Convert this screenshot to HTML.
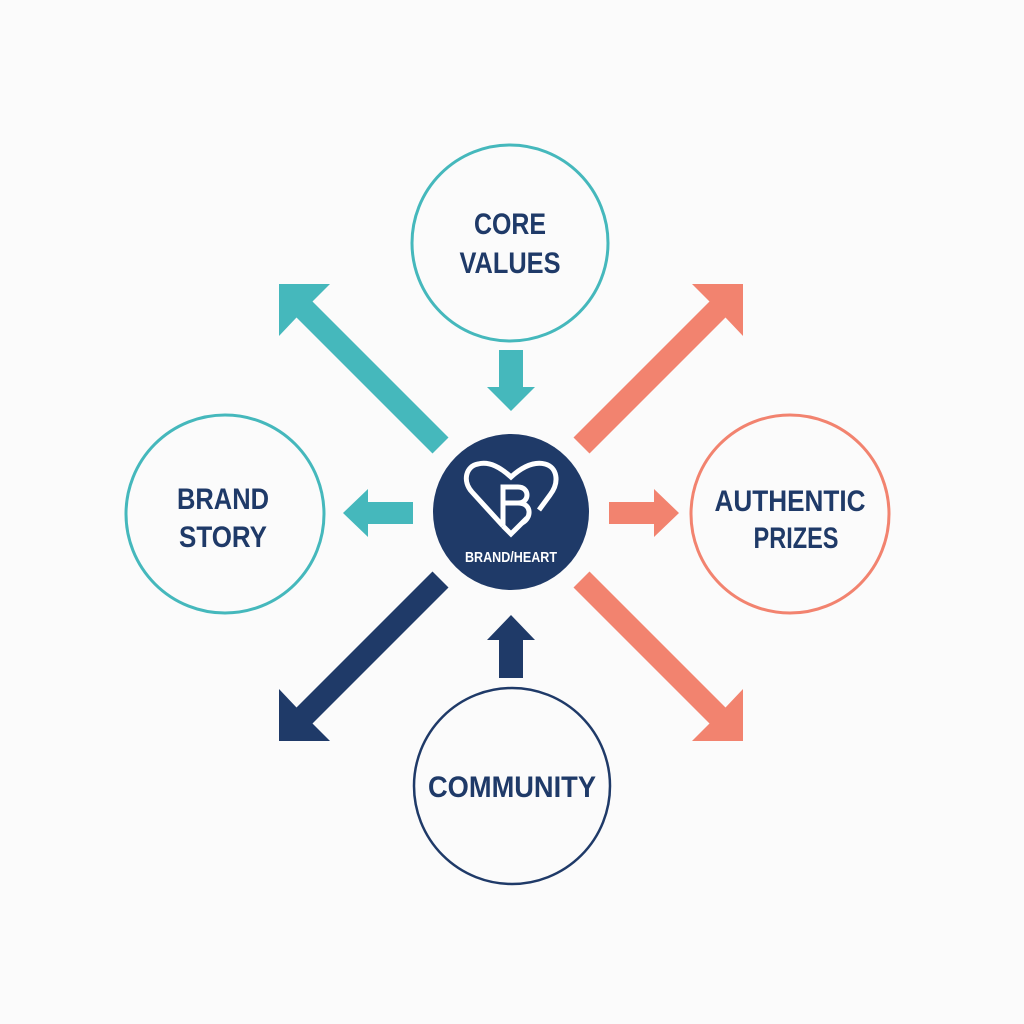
<!DOCTYPE html>
<html><head><meta charset="utf-8"><style>
html,body{margin:0;padding:0;background:#fbfbfb;}
svg{display:block}
text{font-family:"Liberation Sans",sans-serif;font-weight:bold;fill:#1f3a68;}
</style></head><body>
<svg width="1024" height="1024" viewBox="0 0 1024 1024">
<rect width="1024" height="1024" fill="#fbfbfb"/>
<g fill="none" stroke-width="3">
<circle cx="510" cy="243" r="98" stroke="#45b8bc"/>
<circle cx="225" cy="514" r="99" stroke="#45b8bc"/>
<circle cx="790" cy="514" r="99" stroke="#f2836f"/>
<circle cx="512" cy="786" r="98" stroke="#1f3a68" stroke-width="2.5"/>
</g>
<polygon fill="#45b8bc" points="279,284 330,284 312.5,301.5 448.5,437.5 432.5,453.5 296.5,317.5 279,336"/>
<g transform="translate(1022,0) scale(-1,1)"><polygon fill="#f2836f" points="279,284 330,284 312.5,301.5 448.5,437.5 432.5,453.5 296.5,317.5 279,336"/></g>
<g transform="translate(0,1025) scale(1,-1)"><polygon fill="#1f3a68" points="279,284 330,284 312.5,301.5 448.5,437.5 432.5,453.5 296.5,317.5 279,336"/></g>
<g transform="translate(1022,1025) scale(-1,-1)"><polygon fill="#f2836f" points="279,284 330,284 312.5,301.5 448.5,437.5 432.5,453.5 296.5,317.5 279,336"/></g>
<polygon fill="#45b8bc" points="499,350 523,350 523,387 535,387 511,411 487,387 499,387"/>
<polygon fill="#1f3a68" points="499,678 523,678 523,640 535,640 511,615 487,640 499,640"/>
<polygon fill="#45b8bc" points="413,502 413,524 368,524 368,537 343,513 368,489 368,502"/>
<polygon fill="#f2836f" points="609,502 609,524 654,524 654,537 679,513 654,489 654,502"/>
<circle cx="511" cy="512" r="78" fill="#1f3a68"/>
<g fill="none" stroke="#fff" stroke-width="5" stroke-linejoin="miter">
<path d="M503,526 L472,492 C462,481 466,466 478,464 C490,461 501,468 511,477 C521,468 533,461 545,464 C557,467 560,482 550,495 L539,510"/>
<path d="M503,526 L511,534 L527,518"/>
<path d="M503,526 L503,487 L518,487 C530,487 530,503 518,503 L503,503 M518,503 C532,503 532,518 522,523"/>
</g>
<text x="511" y="562" font-size="15" text-anchor="middle" textLength="92" lengthAdjust="spacingAndGlyphs" style="fill:#fff">BRAND/HEART</text>
<text x="510" y="234" font-size="30" text-anchor="middle" textLength="72" lengthAdjust="spacingAndGlyphs">CORE</text>
<text x="510" y="273" font-size="30" text-anchor="middle" textLength="101" lengthAdjust="spacingAndGlyphs">VALUES</text>
<text x="223" y="509" font-size="30" text-anchor="middle" textLength="92" lengthAdjust="spacingAndGlyphs">BRAND</text>
<text x="223" y="547" font-size="30" text-anchor="middle" textLength="88" lengthAdjust="spacingAndGlyphs">STORY</text>
<text x="790" y="511" font-size="30" text-anchor="middle" textLength="151" lengthAdjust="spacingAndGlyphs">AUTHENTIC</text>
<text x="796" y="548" font-size="30" text-anchor="middle" textLength="85" lengthAdjust="spacingAndGlyphs">PRIZES</text>
<text x="512" y="797" font-size="30" text-anchor="middle" textLength="168" lengthAdjust="spacingAndGlyphs">COMMUNITY</text>
</svg>
</body></html>
